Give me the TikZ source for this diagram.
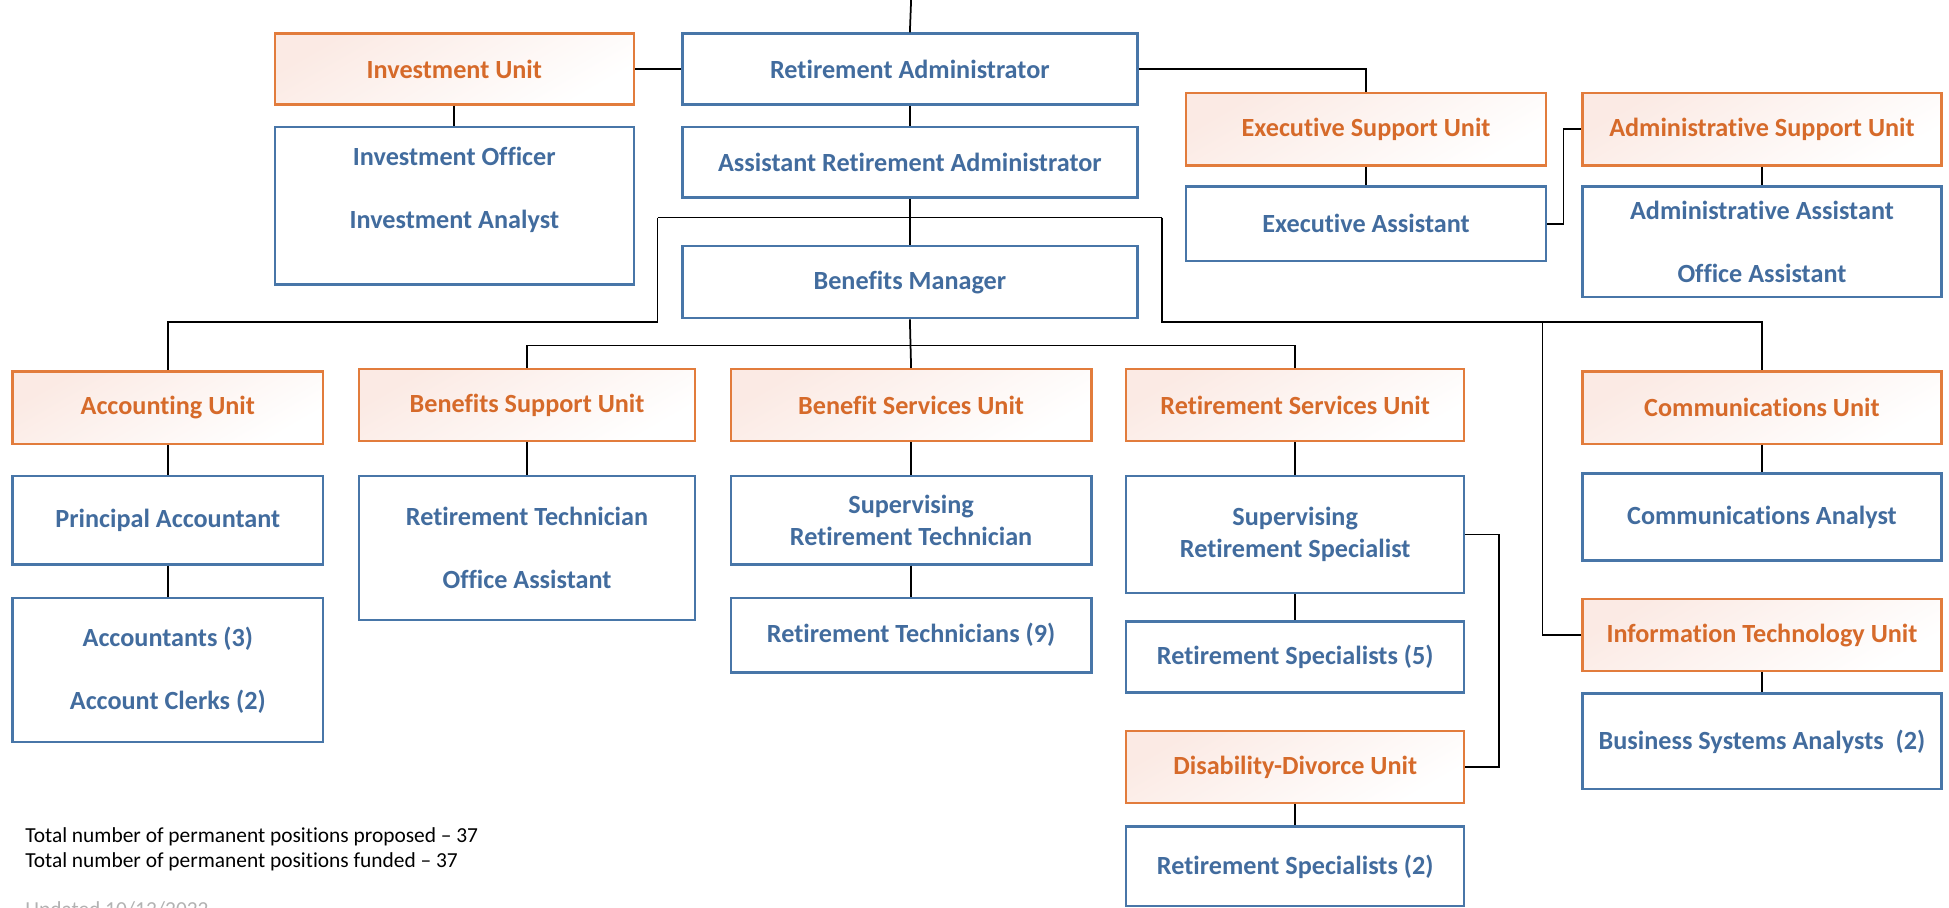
\documentclass[tikz,border=0pt]{standalone}
\usepackage{fontspec}
\setmainfont{Carlito}[Ligatures=NoCommon]
\usetikzlibrary{positioning}

\definecolor{posblue}{RGB}{66,108,158}
\definecolor{posline}{RGB}{72,118,168}
\definecolor{unitorange}{RGB}{214,106,42}
\definecolor{unitline}{RGB}{226,124,60}
\definecolor{unitfill}{RGB}{251,234,228}

\tikzset{
  posbox/.style={draw=posline, line width=1.1pt, fill=white, inner sep=0pt,
    align=center, text=posblue, font=\fontsize{12}{14.5}\selectfont\bfseries},
  unitbox/.style={draw=unitline, line width=1.1pt, inner sep=0pt,
    top color=unitfill, bottom color=white, shading angle=30,
    align=center, text=unitorange, font=\fontsize{12}{14.5}\selectfont\bfseries},
  link/.style={draw=black, line width=0.8pt},
  notetext/.style={inner sep=0pt, font=\fontsize{9.8}{11.8}\selectfont}
}

\begin{document}
\begin{tikzpicture}[x=0.02cm, y=-0.02cm]
	\useasboundingbox (0,0) rectangle (1568,730);

	% top of the tree
	\node[posbox, minimum width=7.32cm, minimum height=1.14cm] (ra) at (732,55.5) {Retirement Administrator};
	\node[unitbox, minimum width=5.78cm, minimum height=1.14cm] (iu) at (365.5,55.5) {Investment Unit};
	\node[posbox, minimum width=5.78cm, minimum height=2.54cm] (ioa) at (365.5,165.5) {};
	\node[text=posblue, align=center, inner sep=0pt, font=\fontsize{12}{14.5}\selectfont\bfseries] (ioatext) at (365.5,153) {Investment Officer\\[0.51cm]Investment Analyst};
	\node[posbox, minimum width=7.32cm, minimum height=1.14cm] (ara) at (732,130.5) {Assistant Retirement Administrator};
	\node[posbox, minimum width=7.32cm, minimum height=1.16cm] (bm) at (732,227) {Benefits Manager};

	\node[unitbox, minimum width=5.8cm, minimum height=1.16cm] (esu) at (1099,104) {Executive Support Unit};
	\node[posbox, minimum width=5.8cm, minimum height=1.2cm] (ea) at (1099,180) {Executive Assistant};
	\node[unitbox, minimum width=5.78cm, minimum height=1.16cm] (asu) at (1417.5,104) {Administrative Support Unit};
	\node[posbox, minimum width=5.78cm, minimum height=1.78cm] (aaoa) at (1417.5,194.5) {Administrative Assistant\\[0.51cm]Office Assistant};

	% units
	\node[unitbox, minimum width=5cm, minimum height=1.16cm] (au) at (135,328) {Accounting Unit};
	\node[posbox, minimum width=5cm, minimum height=1.42cm] (pa) at (135,418.5) {Principal Accountant};
	\node[posbox, minimum width=5cm, minimum height=2.32cm] (acc) at (135,539) {Accountants (3)\\[0.51cm]Account Clerks (2)};

	\node[unitbox, minimum width=5.4cm, minimum height=1.16cm] (bsu) at (424,326) {Benefits Support Unit};
	\node[posbox, minimum width=5.4cm, minimum height=2.32cm] (rtoa) at (424,441) {Retirement Technician\\[0.51cm]Office Assistant};

	\node[unitbox, minimum width=5.8cm, minimum height=1.16cm] (bsvu) at (733,326) {Benefit Services Unit};
	\node[posbox, minimum width=5.8cm, minimum height=1.42cm] (srt) at (733,418.5) {Supervising\\Retirement Technician};
	\node[posbox, minimum width=5.8cm, minimum height=1.2cm] (rt9) at (733,511) {Retirement Technicians (9)};

	\node[unitbox, minimum width=5.44cm, minimum height=1.16cm] (rsu) at (1042,326) {Retirement Services Unit};
	\node[posbox, minimum width=5.44cm, minimum height=1.88cm] (srs) at (1042,430) {Supervising\\Retirement Specialist};
	\node[posbox, minimum width=5.44cm, minimum height=1.14cm] (rs5) at (1042,528.5) {Retirement Specialists (5)};
	\node[unitbox, minimum width=5.44cm, minimum height=1.16cm] (ddu) at (1042,617) {Disability-Divorce Unit};
	\node[posbox, minimum width=5.44cm, minimum height=1.28cm] (rs2) at (1042,697) {Retirement Specialists (2)};

	\node[unitbox, minimum width=5.78cm, minimum height=1.16cm] (cu) at (1417.5,328) {Communications Unit};
	\node[posbox, minimum width=5.78cm, minimum height=1.4cm] (ca) at (1417.5,416) {Communications Analyst};
	\node[unitbox, minimum width=5.78cm, minimum height=1.16cm] (itu) at (1417.5,511) {Information Technology Unit};
	\node[posbox, minimum width=5.78cm, minimum height=1.54cm] (bsa) at (1417.5,596.5) {Business Systems Analysts\ \ (2)};

	% joints
	\coordinate (top) at (733,0);
	\coordinate (ljoint) at (529,175);
	\coordinate (rjoint) at (935,175);
	\coordinate (bmjoint) at (733,278);
	\coordinate (itbranch) at (1241,259);

	% connectors
	\draw[link] (top) -- (ra.north);
	\draw[link] (iu.east) -- (ra.west);
	\draw[link] (iu.south) -- (ioa.north);
	\draw[link] (ra.south) -- (ara.north);
	\draw[link] (ra.east) -| (esu.north);
	\draw[link] (esu.south) -- (ea.north);
	\draw[link] (asu.south) -- (aaoa.north);
	\draw[link] (ea.east) -- ++(13,0) |- (asu.west);
	\draw[link] (ara.south) -- (bm.north);
	\draw[link] (ljoint) -- (rjoint);
	\draw[link] (ljoint) -- (ljoint |- itbranch) -| (au.north);
	\draw[link] (rjoint) -- (rjoint |- itbranch) -| (cu.north);
	\draw[link] (itu.west) -| (itbranch);
	\draw[link] (bsu.north) |- (bmjoint) -| (rsu.north);
	\draw[link] (bm.south) -- (bsvu.north);
	\draw[link] (au.south) -- (pa.north);
	\draw[link] (pa.south) -- (acc.north);
	\draw[link] (bsu.south) -- (rtoa.north);
	\draw[link] (bsvu.south) -- (srt.north);
	\draw[link] (srt.south) -- (rt9.north);
	\draw[link] (rsu.south) -- (srs.north);
	\draw[link] (srs.south) -- (rs5.north);
	\draw[link] (srs.east) -- ++(27,0) |- (ddu.east);
	\draw[link] (ddu.south) -- (rs2.north);
	\draw[link] (cu.south) -- (ca.north);
	\draw[link] (itu.south) -- (bsa.north);

	% totals
	\node[notetext, anchor=west] (proposed) at (20,673) {Total number of permanent positions proposed – 37};
	\node[notetext, anchor=west] (funded) at (20,693) {Total number of permanent positions funded – 37};
	\node[notetext, anchor=north west, text=gray!60] (updated) at (20,725) {Updated 10/12/2022};

\end{tikzpicture}
\end{document}
